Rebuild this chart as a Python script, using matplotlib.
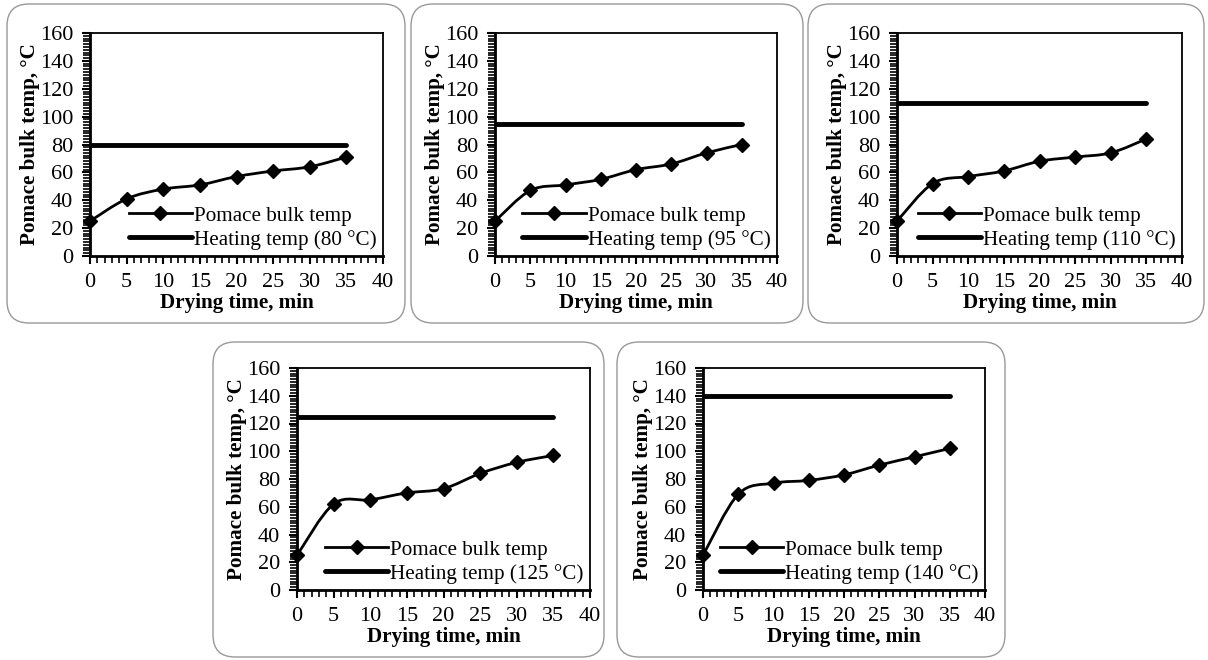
import matplotlib
matplotlib.use("Agg")
import matplotlib.pyplot as plt
import numpy as np
from matplotlib.patches import FancyBboxPatch, PathPatch
from matplotlib.path import Path
from matplotlib.transforms import IdentityTransform
from matplotlib.ticker import MultipleLocator

plt.rcParams['font.family'] = ['Liberation Serif', 'DejaVu Serif']

# drying time (min)
time_min = [0, 5, 10, 15, 20, 25, 30, 35]

# heating temperatures (one per panel)
heating_temps = [80, 95, 110, 125, 140]

# pomace bulk temperature, one series per heating temperature
bulk_80 = [25, 41, 48, 51, 57, 61, 64, 71]
bulk_95 = [25, 47, 51, 55, 62, 66, 74, 80]
bulk_110 = [25, 52, 57, 61, 68, 71, 74, 84]
bulk_125 = [25, 62, 65, 70, 73, 84, 92, 97]
bulk_140 = [25, 69, 77, 79, 83, 90, 96, 102]

bulk_series = [bulk_80, bulk_95, bulk_110, bulk_125, bulk_140]

TICK_SIZE = 16
LABEL_SIZE = 15.2
LEGEND_SIZE = 15.2
W, H = 1208, 660

# axes rectangles in pixels: left, top, right, bottom (from top-left)
AXES_PX = [(90, 33, 383, 256), (495, 33, 777, 256), (897, 33, 1182, 256),
           (297, 368, 590, 590), (703, 368, 985, 590)]
# rounded frame around each panel, pixels: left, top, right, bottom
BOX_PX = [(7, 4, 405, 323), (411, 4, 803, 323), (808, 4, 1204, 323),
          (213, 342, 604, 657), (617, 342, 1005, 657)]


def smooth_path(x, y):
    # Excel-like smoothed line: Catmull-Rom segments expressed as cubic Beziers
    x = np.asarray(x, float)
    y = np.asarray(y, float)
    verts = [(x[0], y[0])]
    codes = [Path.MOVETO]
    n = len(x)
    for i in range(n - 1):
        p0 = (x[max(i - 1, 0)], y[max(i - 1, 0)])
        p1 = (x[i], y[i])
        p2 = (x[i + 1], y[i + 1])
        p3 = (x[min(i + 2, n - 1)], y[min(i + 2, n - 1)])
        t = 1 / 6
        c1 = (p1[0] + (p2[0] - p0[0]) * t, p1[1] + (p2[1] - p0[1]) * t)
        c2 = (p2[0] - (p3[0] - p1[0]) * t, p2[1] - (p3[1] - p1[1]) * t)
        verts += [c1, c2, p2]
        codes += [Path.CURVE4] * 3
    return Path(verts, codes)


fig = plt.figure(figsize=(W / 100, H / 100), dpi=100)

for (bl, bt, br, bb) in BOX_PX:
    box = FancyBboxPatch((bl, H - bb), br - bl, bb - bt,
                         boxstyle="round,pad=0,rounding_size=22",
                         transform=IdentityTransform(), facecolor='none',
                         edgecolor='#999999', linewidth=1.0, zorder=0)
    fig.add_artist(box)

for idx, (l, t, r, b) in enumerate(AXES_PX):
    ax = fig.add_axes([l / W, (H - b) / H, (r - l) / W, (b - t) / H])
    temps = bulk_series[idx]
    heat = heating_temps[idx]

    # heating line
    ax.plot([time_min[0], time_min[-1]], [heat, heat], color='black', lw=3.5,
            solid_capstyle='round', zorder=3)
    # smoothed bulk temperature line
    ax.add_patch(PathPatch(smooth_path(time_min, temps), facecolor='none',
                           edgecolor='black', lw=2.0, zorder=4))
    ax.plot(time_min, temps, linestyle='none', marker='D', color='black',
            markersize=7.5, zorder=5, clip_on=False)

    ax.set_xlim(0, 40)
    ax.set_ylim(0, 160)
    ax.xaxis.set_major_locator(MultipleLocator(5))
    ax.xaxis.set_minor_locator(MultipleLocator(1))
    ax.yaxis.set_major_locator(MultipleLocator(20))
    ax.yaxis.set_minor_locator(MultipleLocator(2))
    ax.tick_params(which='major', direction='out', length=6, width=1.5,
                   labelsize=TICK_SIZE)
    ax.tick_params(which='minor', direction='out', length=5, width=1.2)
    ax.tick_params(axis='x', pad=6)
    ax.tick_params(axis='y', pad=6)
    for side in ['left', 'bottom']:
        ax.spines[side].set_linewidth(2.0)
    for side in ['top', 'right']:
        ax.spines[side].set_linewidth(1.3)

    ax.set_xlabel('Drying time, min', fontsize=LABEL_SIZE, fontweight='bold',
                  labelpad=1)
    ax.set_ylabel('Pomace bulk temp, °C', fontsize=LABEL_SIZE,
                  fontweight='bold', labelpad=0)

    handles = [plt.Line2D([], [], color='black', lw=2.0, marker='D',
                          markersize=7.5),
               plt.Line2D([], [], color='black', lw=3.5,
                          solid_capstyle='round')]
    labels = ['Pomace bulk temp', f'Heating temp ({heat} °C)']
    ax.legend(handles, labels, loc='lower right', bbox_to_anchor=(1.0, 0.0),
              frameon=False, fontsize=LEGEND_SIZE, handlelength=3.0,
              handletextpad=0.1, labelspacing=0.2, borderpad=0.1,
              borderaxespad=0.2)

fig.savefig('out.png', dpi=100)
